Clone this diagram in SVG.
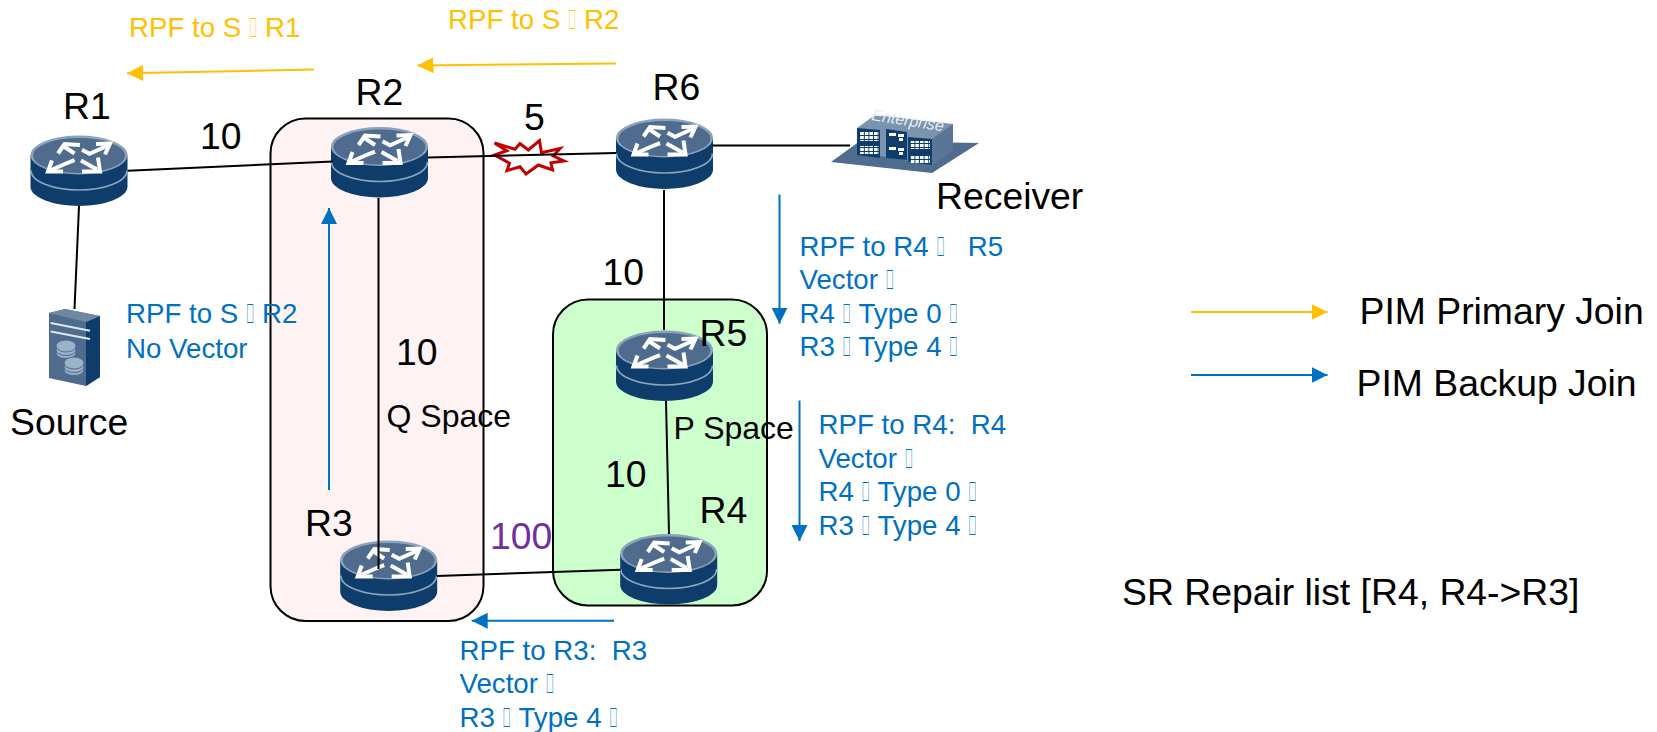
<svg xmlns="http://www.w3.org/2000/svg" width="1657" height="732" viewBox="0 0 1657 732">
<style>
text{font-family:"Liberation Sans",sans-serif;white-space:pre}
.b{font-size:37.33px;fill:#000}
.s{font-size:32px;fill:#000}
.o{font-size:27.7px;fill:#ffc000}
.u{font-size:27.7px;fill:#0070c0}
.l{fill:none;stroke:#000;stroke-width:2}
.ao{fill:none;stroke:#ffc000;stroke-width:2;marker-end:url(#mo)}
.au{fill:none;stroke:#0070c0;stroke-width:2;marker-end:url(#mu)}
</style>
<defs>
<marker id="mo" markerUnits="userSpaceOnUse" markerWidth="18" markerHeight="16" refX="16" refY="8" orient="auto"><path d="M0,0L16,8L0,16Z" fill="#ffc000"/></marker>
<marker id="mu" markerUnits="userSpaceOnUse" markerWidth="18" markerHeight="16" refX="16" refY="8" orient="auto"><path d="M0,0L16,8L0,16Z" fill="#0070c0"/></marker>
<pattern id="win" patternUnits="userSpaceOnUse" width="4.600" height="4"><rect width="3.600" height="3" fill="#fff"/></pattern>
<g id="router">
<path d="M-48.5,20V51A48.5,19.500 0 0 0 48.5,51V20Z" fill="#0f3d6b"/>
<path d="M-48,35A48,19.500 0 0 0 48,35" fill="none" stroke="#8aa5bf" stroke-width="1.600"/>
<ellipse cx="0" cy="19.500" rx="48.500" ry="19.500" fill="#8ba3bb"/>
<ellipse cx="0" cy="20" rx="46" ry="17.500" fill="#4f6b8e"/>
<g fill="none" stroke="#fff" stroke-width="4">
<path d="M3,14.300L10.500,18.300L29,10"/>
<path d="M17,8.500L31,8L26,19"/>
<path d="M-4.500,24.700L-13,28L-29,35"/>
<path d="M-27,25L-31,36L-16,36"/>
<path d="M-4.500,18L-15,11"/>
<path d="M-21,18L-14.500,8.500L1,9.500"/>
<path d="M2,25L18,34"/>
<path d="M19,22L21,36L3,36"/>
</g>
</g>
</defs>

<g id="space-q"><rect x="270.500" y="118.500" width="213" height="502.500" rx="35" fill="#fff2f2" stroke="#000" stroke-width="2"/></g>
<g id="space-p"><rect x="553" y="299.500" width="214" height="306" rx="35" fill="#ccffcc" stroke="#000" stroke-width="2"/></g>

<g id="burst"><path d="M494.500,143L515,149.300L520,143.500L528.300,150L539.500,140.500L541.500,152.700L560,148.500L553.300,156L564,161L551,162.700L552.500,170L538.300,165L526,174L520,166.700L507,170.500L509.500,163.300L494.500,155L506.700,150.700Z" fill="#fff" stroke="#c00000" stroke-width="3"/></g>

<g id="R1"><use href="#router" x="79" y="135.500"/><text class="b" x="63" y="119">R1</text></g>
<g id="R2"><use href="#router" x="379.500" y="127"/><text class="b" x="355.500" y="105">R2</text></g>
<g id="R6"><use href="#router" x="664.500" y="118.500"/><text class="b" x="652.500" y="100">R6</text></g>
<g id="R5"><use href="#router" x="664.500" y="330.500"/><text class="b" x="699.500" y="346">R5</text></g>
<g id="R4"><use href="#router" x="668.700" y="534"/><text class="b" x="699.500" y="523">R4</text></g>
<g id="R3"><use href="#router" x="388.700" y="540.500"/><text class="b" x="305" y="536">R3</text></g>

<g id="connectors">
<path class="l" d="M127.700,170.700L333,161.500"/>
<path class="l" d="M428,157.500L616,153"/>
<path class="l" d="M79,206L74.500,309"/>
<path class="l" d="M712,145.500H850"/>
<path class="l" d="M664,190V330"/>
<path class="l" d="M666,401L669,534"/>
<path class="l" d="M378.500,198V569"/>
<path class="l" d="M436.700,576L620.700,569.700"/>
<path class="ao" d="M314,69.500L127,73.300"/>
<path class="ao" d="M616,63.500L417.500,65.500"/>
<path class="ao" d="M1191,312H1327.500"/>
<path class="au" d="M1191,375H1327.500"/>
<path class="au" d="M329,490V208"/>
<path class="au" d="M779.500,194.500V323.700"/>
<path class="au" d="M799.500,400.500V541"/>
<path class="au" d="M614,620.700H471.700"/>
</g>

<g id="Source">
<path d="M49,313L65,309L100,316L100,377L86,386L49,378Z" fill="#4f6b8e"/>
<path d="M86,322L100,316V377L86,386Z" fill="#0f3d6b"/>
<path d="M49,313L65,309L100,316L86,322Z" fill="#6f88a5"/>
<path d="M50.700,323L90,330.700M50.700,331.500L90,339" stroke="#dfe7ef" stroke-width="2" fill="none"/>
<g fill="#9cb2c8" stroke="#4f6b8e" stroke-width="1"><ellipse cx="66" cy="353" rx="10" ry="5.500"/><ellipse cx="66" cy="350" rx="10" ry="5.500"/><ellipse cx="66" cy="346" rx="10" ry="6"/><ellipse cx="74" cy="370" rx="10" ry="5.500"/><ellipse cx="74" cy="367" rx="10" ry="5.500"/><ellipse cx="74" cy="363" rx="10" ry="6"/></g>
<text class="b" x="10" y="435">Source</text>
</g>

<g id="Receiver">
<path d="M831,162L860,141L979,143L932,173Z" fill="#4f6b8e"/>
<path d="M857,128L875,115L953,124V150L932,165L857,152Z" fill="#7a93ae"/>
<path d="M932,139L953,124V150L932,165Z" fill="#5a7595"/>
<path d="M857,128L880,130V158L857,155Z" fill="#0f3d6b"/>
<path d="M886,129L907,132V160L886,158Z" fill="#0f3d6b"/>
<path d="M908,137L932,139V165L908,162Z" fill="#0f3d6b"/>
<path d="M860,132H879V141H860ZM860,146H879V154H860ZM910,141H930V149H910ZM910,155H930V163H910Z" fill="url(#win)"/>
<path d="M889,133h7v3h-7zM898,134h6v3h-6zM899,138h4v3h-4zM889,147h7v3h-7zM898,148h6v3h-6zM899,152h4v3h-4z" fill="#fff"/>
<text x="871" y="120" transform="rotate(9 871 120)" style="font-size:16px;font-style:italic;fill:#e8eef4">Enterprise</text>
<text class="b" x="936" y="209">Receiver</text>
</g>

<g id="labels">
<text class="s" x="386.500" y="427">Q Space</text>
<text class="s" x="673.500" y="439">P Space</text>
<text class="b" x="200" y="149">10</text>
<text class="b" x="524" y="130">5</text>
<text class="b" x="602.500" y="285">10</text>
<text class="b" x="396" y="365">10</text>
<text class="b" x="605" y="487">10</text>
<text class="b" x="490" y="549" style="fill:#7030a0">100</text>
<text class="o" x="129" y="36.500">RPF to S <tspan textLength="8.2" lengthAdjust="spacingAndGlyphs">&#xF0E0;</tspan> R1</text>
<text class="o" x="448" y="29">RPF to S <tspan textLength="8.2" lengthAdjust="spacingAndGlyphs">&#xF0E0;</tspan> R2</text>
<text class="u" x="126" y="323">RPF to S <tspan textLength="8.2" lengthAdjust="spacingAndGlyphs">&#xF0E0;</tspan> R2</text>
<text class="u" x="126" y="358">No Vector</text>
<text class="u" x="799.500" y="256">RPF to R4 <tspan textLength="8.2" lengthAdjust="spacingAndGlyphs">&#xF0E0;</tspan>   R5</text>
<text class="u" x="799.500" y="289">Vector <tspan textLength="8.2" lengthAdjust="spacingAndGlyphs">&#xF0E0;</tspan></text>
<text class="u" x="799.500" y="322.500">R4 <tspan textLength="8.2" lengthAdjust="spacingAndGlyphs">&#xF0E0;</tspan> Type 0 <tspan textLength="8.2" lengthAdjust="spacingAndGlyphs">&#xF0E0;</tspan></text>
<text class="u" x="799.500" y="356">R3 <tspan textLength="8.2" lengthAdjust="spacingAndGlyphs">&#xF0E0;</tspan> Type 4 <tspan textLength="8.2" lengthAdjust="spacingAndGlyphs">&#xF0E0;</tspan></text>
<text class="u" x="818.500" y="433.500">RPF to R4:  R4</text>
<text class="u" x="818.500" y="468">Vector <tspan textLength="8.2" lengthAdjust="spacingAndGlyphs">&#xF0E0;</tspan></text>
<text class="u" x="818.500" y="500.500">R4 <tspan textLength="8.2" lengthAdjust="spacingAndGlyphs">&#xF0E0;</tspan> Type 0 <tspan textLength="8.2" lengthAdjust="spacingAndGlyphs">&#xF0E0;</tspan></text>
<text class="u" x="818.500" y="534.500">R3 <tspan textLength="8.2" lengthAdjust="spacingAndGlyphs">&#xF0E0;</tspan> Type 4 <tspan textLength="8.2" lengthAdjust="spacingAndGlyphs">&#xF0E0;</tspan></text>
<text class="u" x="459.500" y="660">RPF to R3:  R3</text>
<text class="u" x="459.500" y="693">Vector <tspan textLength="8.2" lengthAdjust="spacingAndGlyphs">&#xF0E0;</tspan></text>
<text class="u" x="459.500" y="727">R3 <tspan textLength="8.2" lengthAdjust="spacingAndGlyphs">&#xF0E0;</tspan> Type 4 <tspan textLength="8.2" lengthAdjust="spacingAndGlyphs">&#xF0E0;</tspan></text>
<text class="b" x="1359.500" y="323.500">PIM Primary Join</text>
<text class="b" x="1356.500" y="396">PIM Backup Join</text>
<text class="b" x="1122" y="605">SR Repair list [R4, R4-&gt;R3]</text>
</g>
</svg>
